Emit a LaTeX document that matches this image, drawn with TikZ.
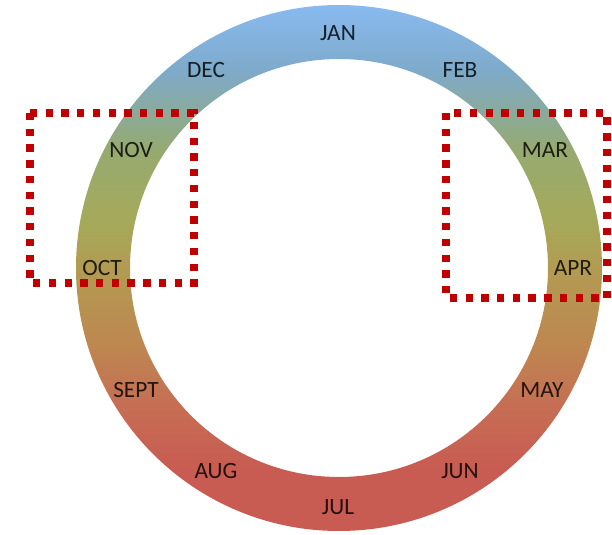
\documentclass[tikz,border=0pt]{standalone}
\usepackage{fontspec}
\setmainfont{Carlito}

\definecolor{ringtop}{RGB}{136,186,240}
\definecolor{ringsteel}{RGB}{126,170,202}
\definecolor{ringsage}{RGB}{150,170,112}
\definecolor{ringolive}{RGB}{165,170,90}
\definecolor{ringtan}{RGB}{178,155,82}
\definecolor{ringocre}{RGB}{190,135,80}
\definecolor{ringrust}{RGB}{198,110,84}
\definecolor{ringred}{RGB}{200,92,82}
\definecolor{markred}{RGB}{192,0,0}

% bottom (25bp) to top (75bp) of the ring
\pgfdeclareverticalshading{seasons}{100bp}{%
  color(0bp)=(ringred); color(25bp)=(ringred); color(31bp)=(ringred);
  color(37bp)=(ringrust); color(42.6bp)=(ringocre); color(50bp)=(ringtan);
  color(54.6bp)=(ringolive); color(61.2bp)=(ringsage); color(68.8bp)=(ringsteel);
  color(75bp)=(ringtop); color(100bp)=(ringtop)}

\begin{document}
\begin{tikzpicture}[x=0.75pt,y=0.75pt,yscale=-1,xscale=1,
    month/.style={font=\fontsize{17.5}{20}\selectfont, text=black, text opacity=0.82, inner sep=0.75pt},
    dotbox/.style={draw=markred, line width=5.5pt, dash pattern=on 5.5pt off 6.3pt}]
\path[use as bounding box] (0,0) rectangle (612,535);

%Ring
\shade[shading=seasons, even odd rule] (339,268) circle (263) (339,268) circle (209);

%Months
\node[month] (jan) at (338,33) {JAN};
\node[month] (feb) at (460,70) {FEB};
\node[month] (mar) at (545,150) {MAR};
\node[month] (apr) at (573,268) {APR};
\node[month] (may) at (542,390) {MAY};
\node[month] (jun) at (460,471) {JUN};
\node[month] (jul) at (338,507) {JUL};
\node[month] (aug) at (216,471) {AUG};
\node[month] (sept) at (136,390) {SEPT};
\node[month] (oct) at (102,268) {OCT};
\node[month] (nov) at (131,150) {NOV};
\node[month] (dec) at (206,70) {DEC};

%Dotted boxes
\draw[dotbox] (30,113) rectangle (194,283);
\draw[dotbox] (446,113) rectangle (607,298);

\end{tikzpicture}
\end{document}
